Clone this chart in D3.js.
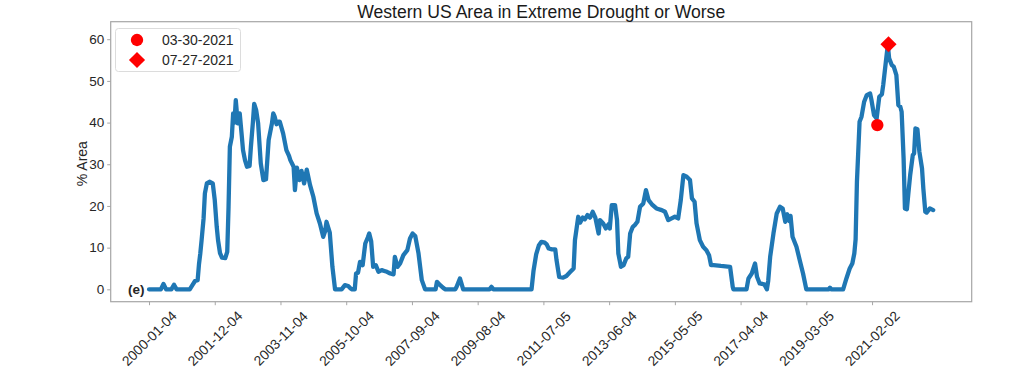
<!DOCTYPE html>
<html>
<head>
<meta charset="utf-8">
<script src="https://cdn.jsdelivr.net/npm/d3@7"></script>
<style>
  html, body { margin: 0; padding: 0; background: #fff; }
  svg { display: block; font-family: "Liberation Sans", Arial, sans-serif; }
</style>
</head>
<body>
<svg id="chart" width="1024" height="383"></svg>
<script>
// ---- data (week index since 2000-01-04, % area in extreme drought or worse) ----
const weekIndex = [
  0, 18, 22, 26, 34, 38, 42, 62, 66, 70, 74, 76, 78, 80, 83, 85, 88, 92, 97, 100,
  103, 105, 108, 111, 116, 119, 121, 123, 126, 128, 130, 132, 135, 138, 141, 143, 146, 149, 153, 155,
  158, 160, 163, 166, 170, 174, 178, 182, 187, 189, 191, 194, 197, 199, 204, 209, 213, 215, 220, 222,
  225, 229, 232, 236, 240, 245, 250, 255, 260, 265, 268, 270, 275, 279, 283, 293, 298, 303, 306, 309,
  313, 315, 318, 321, 325, 329, 333, 335, 338, 341, 345, 349, 354, 358, 362, 367, 372, 374, 378, 382,
  387, 393, 397, 401, 405, 410, 415, 420, 436, 438, 443, 448, 451, 466, 468, 473, 478, 518, 521, 524,
  582, 585, 589, 593, 597, 602, 605, 608, 613, 618, 620, 624, 630, 635, 641, 646, 648, 653, 656, 660,
  663, 667, 671, 675, 679, 684, 686, 691, 695, 699, 701, 704, 709, 712, 714, 718, 722, 726, 729, 732,
  736, 739, 743, 747, 752, 756, 760, 765, 772, 780, 785, 790, 795, 800, 805, 809, 813, 818, 823, 826,
  830, 833, 838, 843, 848, 852, 855, 859, 870, 884, 888, 889, 909, 912, 917, 922, 925, 929, 936, 940,
  942, 945, 950, 955, 960, 964, 968, 971, 974, 976, 979, 985, 990, 995, 1000, 1034, 1036, 1038, 1056, 1061,
  1066, 1070, 1073, 1075, 1077, 1079, 1081, 1084, 1088, 1092, 1097, 1099, 1103, 1107, 1111, 1115, 1117, 1121, 1124, 1126,
  1130, 1133, 1137, 1140, 1143, 1145, 1148, 1150, 1153, 1155, 1158, 1162, 1164, 1166, 1169, 1172, 1176, 1178, 1181, 1183,
  1188, 1193
];
const areaPct = [
  0, 0, 1.3, 0, 0, 1.1, 0, 0, 1, 2, 2.2, 6, 8.6, 11.8, 17, 23, 25.4, 25.8, 25.4, 21.4,
  15, 11.8, 8.7, 7.6, 7.5, 9, 19.8, 34.2, 36.6, 42.2, 40, 45.4, 39.8, 42.2, 37, 33.4, 31, 29.4, 29.6, 34.2,
  40, 44.5, 43, 39.8, 30.2, 26.2, 26.4, 35.8, 39.8, 42.2, 41.5, 39.6, 40.2, 40.2, 37.4, 33.4, 32, 31, 29.4, 23.8,
  29.2, 26.2, 28.4, 25.4, 28.7, 25, 22.2, 18.2, 15.8, 12.6, 14, 16.2, 13.6, 5.4, 0, 0, 1, 0.8, 0.3, 0,
  0, 3.8, 4, 6.6, 5.8, 11, 12.5, 13.4, 11.5, 5.4, 5.8, 4.2, 4.6, 4.4, 4.2, 3.8, 3.6, 7.8, 5.4, 6.2,
  8.2, 9.4, 12.2, 13.4, 12.8, 8.6, 2.2, 0, 0, 1.8, 1, 0.3, 0, 0, 0.6, 2.6, 0, 0, 0.6, 0,
  0, 4.5, 8.4, 10.5, 11.4, 11.2, 10.8, 9.8, 9.6, 9.6, 7, 3, 2.8, 3.2, 4.2, 5, 11.8, 17.4, 16, 17.2,
  16.8, 17.8, 17.2, 18.6, 17.2, 13.4, 16.6, 15.8, 14.6, 15.6, 14.6, 20.2, 20.2, 16.6, 8.6, 5.4, 5.8, 7.4, 7.8, 13.4,
  15, 15.4, 16.2, 19.8, 20.6, 23.8, 21.4, 20.4, 19.4, 19, 18.6, 16.6, 17, 17.4, 17, 21.4, 27.4, 27, 26.2, 21.8,
  21, 15.8, 11.8, 10.2, 9.4, 8.2, 5.8, 5.8, 5.6, 5.4, 0.6, 0, 0, 2.6, 3.8, 6.2, 3, 1.4, 1.2, 0,
  2, 7.8, 13.4, 18.2, 19.8, 19.4, 16.2, 18, 16.4, 17.6, 12.6, 10.2, 7, 3.8, 0, 0, 0.4, 0, 0, 2.6,
  5, 6.2, 8.6, 12, 25.8, 33, 40.2, 41.4, 45, 46.6, 47, 45.5, 41.8, 41, 46.2, 46.8, 49, 54.6, 58.6, 55.4,
  53.8, 53.4, 51.4, 44.2, 43.8, 42.6, 31.4, 19.4, 19.2, 22.6, 27.4, 32.2, 32.6, 38.6, 38.4, 33, 29, 24.2, 18.6, 18.4,
  19.4, 19
];
const tickWeeks = [0, 100, 200, 300, 400, 500, 600, 700, 800, 900, 1000, 1100];
const tickLabels = ["2000-01-04", "2001-12-04", "2003-11-04", "2005-10-04", "2007-09-04", "2009-08-04",
                    "2011-07-05", "2013-06-04", "2015-05-05", "2017-04-04", "2019-03-05", "2021-02-02"];
const yTicks = [0, 10, 20, 30, 40, 50, 60];
const markerLabels = ["03-30-2021", "07-27-2021"];
const markerWeeks = [1108, 1125];
const markerValues = [39.4, 58.8];
const titleText = "Western US Area in Extreme Drought or Worse";
const yLabelText = "% Area";
const panelTag = "(e)";

// ---- layout ----
const svg = d3.select("#chart");
const L = 110.7, R = 971.7, T = 21.7, B = 301.7;
const x = d3.scaleLinear().domain([-58.3, 1251.6]).range([L, R]);
const y = d3.scaleLinear().domain([-2.97, 64.2]).range([B, T]);
const txt = "#262626";

// frame
svg.append("rect").attr("x", L).attr("y", T).attr("width", R - L).attr("height", B - T)
  .attr("fill", "#fff").attr("stroke", "#a6a6a6").attr("stroke-width", 1.2);

// y axis
const yAxis = d3.axisLeft(y).tickValues(yTicks).tickSize(3.5).tickPadding(3).tickFormat(d3.format("d"));
const gy = svg.append("g").attr("transform", `translate(${L},0)`).call(yAxis);
gy.select(".domain").remove();
gy.selectAll(".tick line").attr("stroke", "#a6a6a6");
gy.selectAll(".tick text").attr("fill", txt).style("font-size", "13.5px").style("font-family", "Liberation Sans, Arial, sans-serif");

// x axis
const xAxis = d3.axisBottom(x).tickValues(tickWeeks).tickSize(3.5).tickFormat((d, i) => tickLabels[i]);
const gx = svg.append("g").attr("transform", `translate(0,${B})`).call(xAxis);
gx.select(".domain").remove();
gx.selectAll(".tick line").attr("stroke", "#a6a6a6");
gx.selectAll(".tick text")
  .attr("fill", txt)
  .style("font-size", "13.8px").style("font-family", "Liberation Sans, Arial, sans-serif")
  .attr("text-anchor", "middle").attr("dy", null).attr("dominant-baseline", "central")
  .attr("y", 0)
  .attr("transform", "translate(0,37) rotate(-45)");

// line
const pts = weekIndex.map((w, i) => [w, areaPct[i]]);
svg.append("path").datum(pts)
  .attr("fill", "none").attr("stroke", "#1f77b4").attr("stroke-width", 4.3)
  .attr("stroke-linejoin", "round").attr("stroke-linecap", "round")
  .attr("d", d3.line().x(d => x(d[0])).y(d => y(d[1])));

// markers
const circleSym = d3.symbol().type(d3.symbolCircle).size(120);
const diamondSym = d3.symbol().type(d3.symbolSquare).size(130);
svg.append("path").attr("d", circleSym()).attr("fill", "red")
  .attr("transform", `translate(${x(markerWeeks[0])},${y(markerValues[0])})`);
svg.append("path").attr("d", diamondSym()).attr("fill", "red")
  .attr("transform", `translate(${x(markerWeeks[1])},${y(markerValues[1])}) rotate(45)`);

// panel tag
svg.append("text").attr("x", 144.5).attr("y", y(0)).attr("text-anchor", "end")
  .attr("dominant-baseline", "central").attr("fill", txt)
  .style("font-size", "13.5px").style("font-weight", "bold").text(panelTag);

// legend
const lg = svg.append("g");
lg.append("rect").attr("x", 115.5).attr("y", 28.5).attr("width", 125).attr("height", 43).attr("rx", 3)
  .attr("fill", "#fff").attr("fill-opacity", 0.85).attr("stroke", "#dcdcdc").attr("stroke-width", 1);
lg.append("path").attr("d", circleSym()).attr("fill", "red").attr("transform", "translate(137,40)");
lg.append("path").attr("d", diamondSym()).attr("fill", "red").attr("transform", "translate(137,60) rotate(45)");
markerLabels.forEach((t, i) => {
  lg.append("text").attr("x", 162).attr("y", 40 + i * 20).attr("dominant-baseline", "central")
    .attr("fill", txt).style("font-size", "14px").text(t);
});

// title and y label
svg.append("text").attr("x", (L + R) / 2).attr("y", 17.5).attr("text-anchor", "middle")
  .attr("fill", "#1a1a1a").style("font-size", "17.6px").text(titleText);
svg.append("text").attr("transform", `translate(81.5,${(T + B) / 2 + 2}) rotate(-90)`)
  .attr("text-anchor", "middle").attr("dominant-baseline", "central")
  .attr("fill", txt).style("font-size", "14px").text(yLabelText);
</script>
</body>
</html>
